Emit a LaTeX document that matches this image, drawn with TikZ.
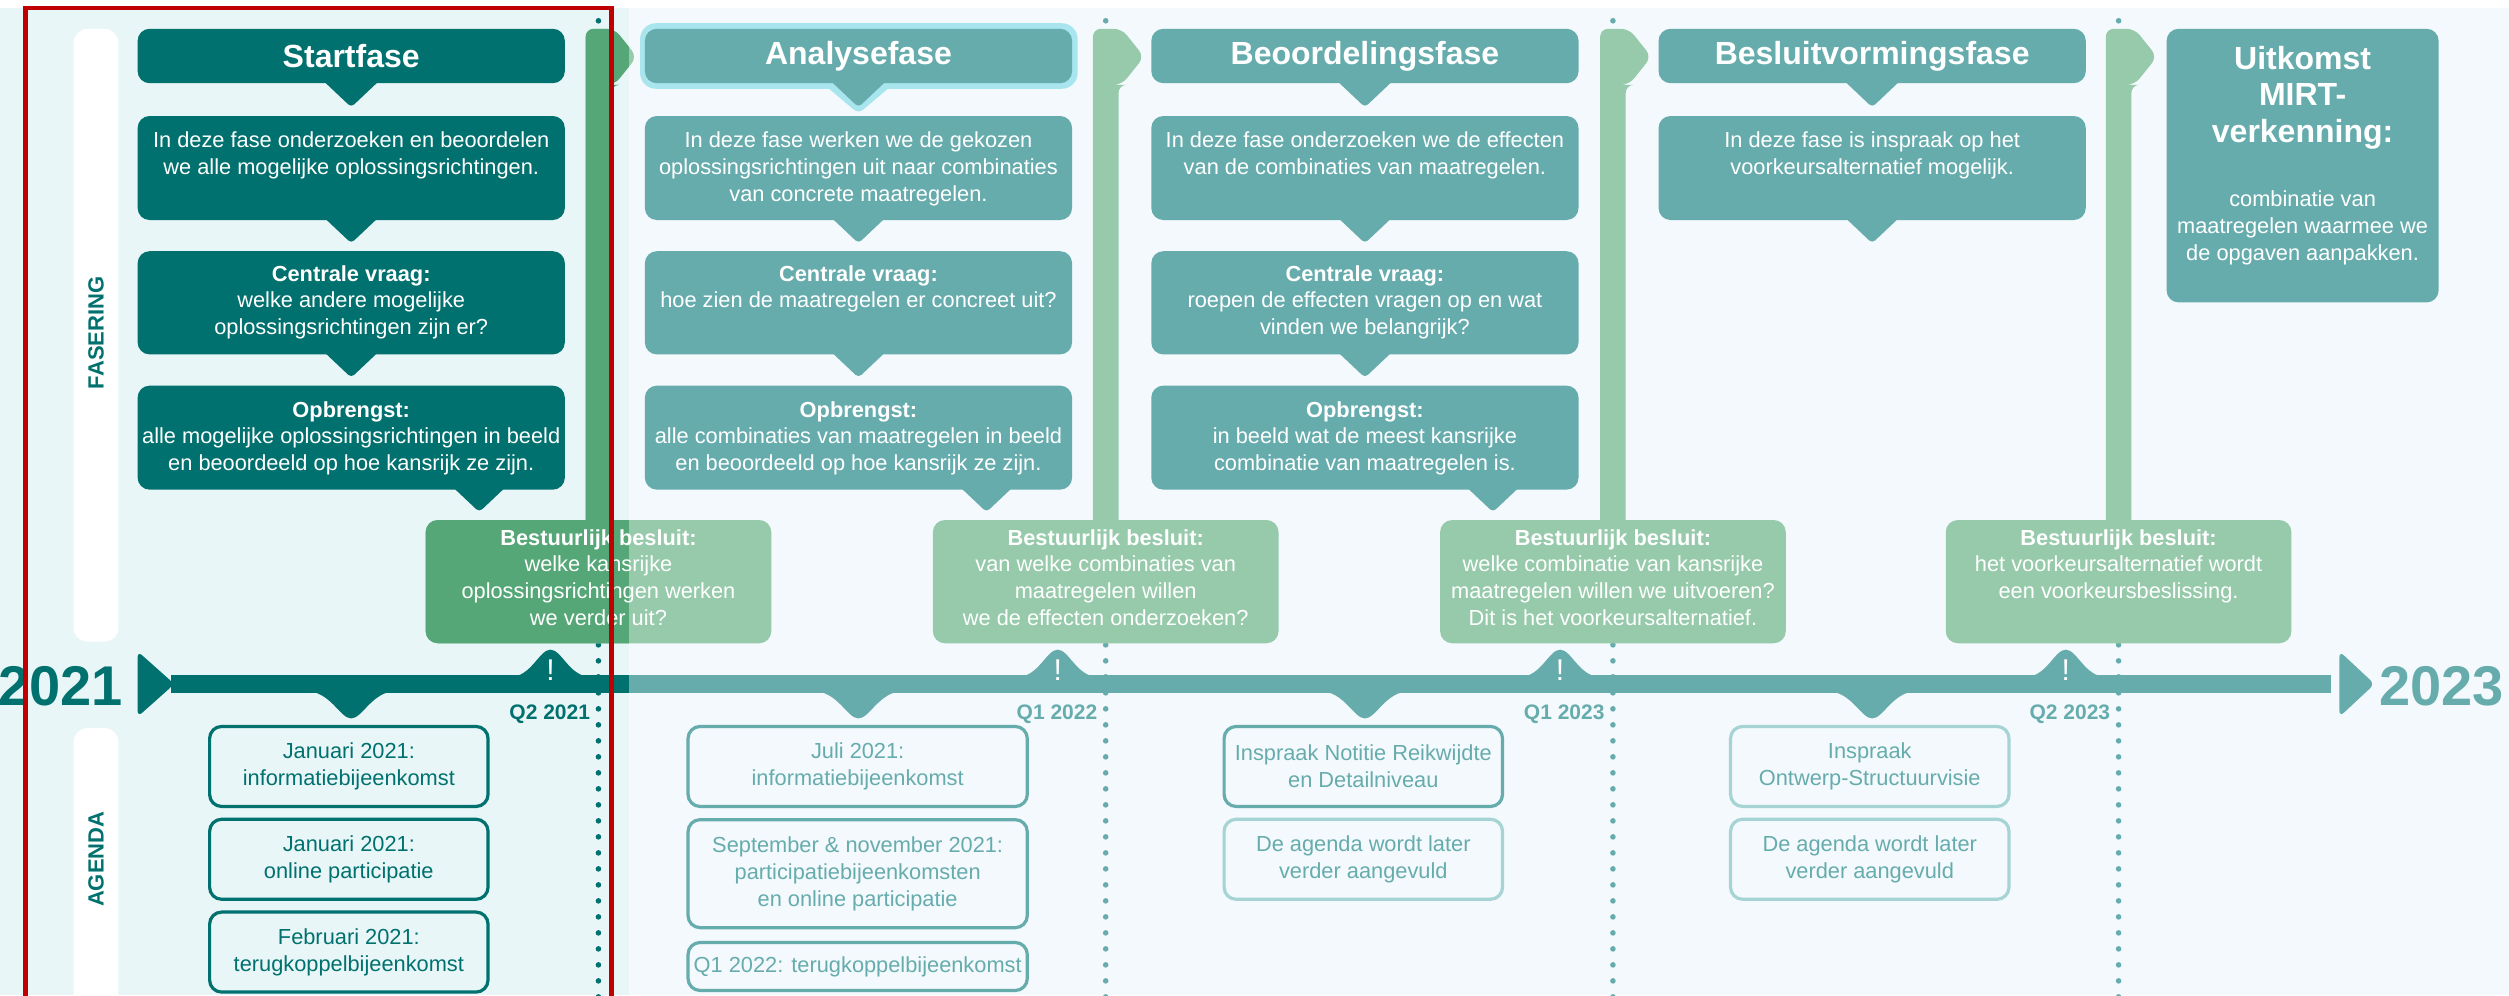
\documentclass[tikz,border=0pt]{standalone}
\usepackage{fontspec}
\setmainfont{Liberation Sans}
\usepackage{xcolor}
\usepackage{tikz}

\definecolor{darkteal}{HTML}{00716E}
\definecolor{midteal}{HTML}{67ACAD}
\definecolor{lightteal}{HTML}{A6D3D3}
\definecolor{lightgreen}{HTML}{96CAAB}
\definecolor{darkgreen}{HTML}{55A777}
\definecolor{panel}{HTML}{F3F9FC}
\definecolor{tint}{HTML}{E9F6F8}
\definecolor{glow}{HTML}{A8E5EE}
\definecolor{markred}{HTML}{C00000}

\tikzset{
  phasetext/.style={font=\fontsize{10.9}{13.4}\selectfont, text=white, align=center, inner sep=0pt},
  phasetitle/.style={font=\fontsize{16}{18.4}\selectfont\bfseries, text=white, align=center, inner sep=0pt},
  agendabox/.style={draw, line width=1.6pt, rounded corners=6pt, align=center, inner sep=0pt,
    font=\fontsize{10.9}{13.4}\selectfont},
  quarter/.style={font=\fontsize{10.5}{12}\selectfont\bfseries, inner sep=0pt, anchor=east},
  qline/.style={line width=2.8pt, line cap=round, dash pattern=on 0pt off 8pt},
  sidelabel/.style={rotate=90, font=\fontsize{11}{12}\selectfont\bfseries, text=darkteal, inner sep=0pt}
}

\begin{document}
\begin{tikzpicture}[x=0.8pt,y=-0.8pt]
\useasboundingbox (0,0) rectangle (1568,622);
\clip (0,0) rectangle (1568,622);

% achtergrond
\fill[white] (0,0) rectangle (1568,622);
\fill[panel] (0,5) rectangle (1568,622);
\fill[tint] (0,5) rectangle (393,622);
\fill[white, rounded corners=7pt] (46,18) rectangle (74,401);
\fill[white, rounded corners=7pt] (46,455) rectangle (74,650);
\node[sidelabel] (fasering) at (60,208) {FASERING};
\node[sidelabel] (agenda) at (60,537) {AGENDA};

% stippellijnen
\draw[qline, darkteal] (374,13) -- (374,630);
\foreach \dx in {691,1008,1324}
  \draw[qline, midteal] (\dx,13) -- (\dx,630);

% groene balken en besluiten
\foreach \dx in {374,691,1008,1324}{
  \fill[lightgreen, rounded corners=4pt] ({\dx-8},330) -- ({\dx-8},18) -- ({\dx+10},18) -- ({\dx+24},35.5) -- ({\dx+10},53) -- ({\dx+8},53) -- ({\dx+8},330) -- cycle;
  \fill[lightgreen, rounded corners=6pt] ({\dx-108},325) rectangle ({\dx+108},402);
}
\begin{scope}
\clip (0,0) rectangle (393,622);
\fill[darkgreen, rounded corners=4pt] (366,330) -- (366,18) -- (384,18) -- (398,35.5) -- (384,53) -- (382,53) -- (382,330) -- cycle;
\fill[darkgreen, rounded corners=6pt] (266,325) rectangle (482,402);
\end{scope}
\node[phasetext, anchor=north] (d1) at (374,330.5) {\textbf{Bestuurlijk besluit:}\\welke kansrijke\\oplossingsrichtingen werken\\we verder uit?};
\node[phasetext, anchor=north] (d2) at (691,330.5) {\textbf{Bestuurlijk besluit:}\\van welke combinaties van\\maatregelen willen\\we de effecten onderzoeken?};
\node[phasetext, anchor=north] (d3) at (1008,330.5) {\textbf{Bestuurlijk besluit:}\\welke combinatie van kansrijke\\maatregelen willen we uitvoeren?\\Dit is het voorkeursalternatief.};
\node[phasetext, anchor=north] (d4) at (1324,330.5) {\textbf{Bestuurlijk besluit:}\\het voorkeursalternatief wordt\\een voorkeursbeslissing.};

% fasen
\fill[glow, rounded corners=8pt] (400,14.5) rectangle (673.5,55.5);
\fill[glow, rounded corners=3pt] (514,52) -- (559,52) -- (536.5,71) -- cycle;
\foreach \cx/\fc in {219.5/darkteal,536.5/midteal,853/midteal,1170/midteal}{
  \fill[\fc, rounded corners=6pt] ({\cx-133.5},18) rectangle ({\cx+133.5},52);
  \fill[\fc, rounded corners=2pt] ({\cx-18},50) -- ({\cx+18},50) -- (\cx,67) -- cycle;
  \fill[\fc, rounded corners=6pt] ({\cx-133.5},72.5) rectangle ({\cx+133.5},137.5);
  \fill[\fc, rounded corners=2pt] ({\cx-18},135) -- ({\cx+18},135) -- (\cx,152) -- cycle;
}
\foreach \cx/\fc in {219.5/darkteal,536.5/midteal,853/midteal}{
  \fill[\fc, rounded corners=6pt] ({\cx-133.5},157) rectangle ({\cx+133.5},221.5);
  \fill[\fc, rounded corners=2pt] ({\cx-18},219) -- ({\cx+18},219) -- (\cx,236) -- cycle;
  \fill[\fc, rounded corners=6pt] ({\cx-133.5},241) rectangle ({\cx+133.5},306);
  \fill[\fc, rounded corners=2pt] ({\cx+62},303) -- ({\cx+98},303) -- ({\cx+80},320) -- cycle;
}
\node[phasetitle] (t1) at (219.5,35) {Startfase};
\node[phasetitle] (t2) at (536.5,35) {Analysefase};
\node[phasetitle] (t3) at (853,35) {Beoordelingsfase};
\node[phasetitle] (t4) at (1170,35) {Besluitvormingsfase};

\node[phasetext, anchor=north] (s1) at (219.5,82) {In deze fase onderzoeken en beoordelen\\we alle mogelijke oplossingsrichtingen.};
\node[phasetext, anchor=north] (s2) at (219.5,165.5) {\textbf{Centrale vraag:}\\welke andere mogelijke\\oplossingsrichtingen zijn er?};
\node[phasetext, anchor=north] (s3) at (219.5,250.5) {\textbf{Opbrengst:}\\alle mogelijke oplossingsrichtingen in beeld\\en beoordeeld op hoe kansrijk ze zijn.};

\node[phasetext, anchor=north] (a1) at (536.5,82) {In deze fase werken we de gekozen\\oplossingsrichtingen uit naar combinaties\\van concrete maatregelen.};
\node[phasetext, anchor=north] (a2) at (536.5,165.5) {\textbf{Centrale vraag:}\\hoe zien de maatregelen er concreet uit?};
\node[phasetext, anchor=north] (a3) at (536.5,250.5) {\textbf{Opbrengst:}\\alle combinaties van maatregelen in beeld\\en beoordeeld op hoe kansrijk ze zijn.};

\node[phasetext, anchor=north] (b1) at (853,82) {In deze fase onderzoeken we de effecten\\van de combinaties van maatregelen.};
\node[phasetext, anchor=north] (b2) at (853,165.5) {\textbf{Centrale vraag:}\\roepen de effecten vragen op en wat\\vinden we belangrijk?};
\node[phasetext, anchor=north] (b3) at (853,250.5) {\textbf{Opbrengst:}\\in beeld wat de meest kansrijke\\combinatie van maatregelen is.};

\node[phasetext, anchor=north] (c1) at (1170,82) {In deze fase is inspraak op het\\voorkeursalternatief mogelijk.};

% uitkomst
\fill[midteal, rounded corners=6pt] (1354,18) rectangle (1524,189);
\node[phasetitle, anchor=north] (u0) at (1439,28.5) {Uitkomst\\MIRT-\\verkenning:};
\node[phasetext, anchor=north] (u1) at (1439,119) {combinatie van\\maatregelen waarmee we\\de opgaven aanpakken.};

% tijdlijn
\coordinate (tstart) at (107,427.5);
\coordinate (tnow) at (393,427.5);
\coordinate (tend) at (1457,427.5);
\draw[darkteal, line width=8.8pt] (tstart) -- (tnow);
\draw[midteal, line width=8.8pt] (tnow) -- (tend);
\fill[darkteal, rounded corners=3pt] (86,407) -- (109,427.5) -- (86,448) -- cycle;
\fill[midteal, rounded corners=3pt] (1462,407) -- (1484,427.5) -- (1462,448) -- cycle;
\node[font=\fontsize{28}{28}\selectfont\bfseries, text=darkteal, inner sep=0pt] (y1) at (38,429) {2021};
\node[font=\fontsize{28}{28}\selectfont\bfseries, text=midteal, inner sep=0pt] (y2) at (1526,429) {2023};

% markeringen op de tijdlijn
\foreach \bx/\fc in {219.5/darkteal,536.5/midteal,853/midteal,1170/midteal}
  \fill[\fc] ({\bx-28},432) .. controls ({\bx-13},432) and ({\bx-7},449) .. (\bx,449) .. controls ({\bx+7},449) and ({\bx+13},432) .. ({\bx+28},432) -- cycle;
\foreach \bx/\fc in {344/darkteal,661/midteal,975/midteal,1291/midteal}{
  \fill[\fc] ({\bx-25},423) .. controls ({\bx-12},423) and ({\bx-7},406) .. (\bx,406) .. controls ({\bx+7},406) and ({\bx+12},423) .. ({\bx+25},423) -- cycle;
  \node[font=\fontsize{15}{15}\selectfont, text=white, inner sep=0pt] at (\bx,419) {!};
}
\node[quarter, text=darkteal] (q1) at (369,446.5) {Q2 2021};
\node[quarter, text=midteal] (q2) at (686,446.5) {Q1 2022};
\node[quarter, text=midteal] (q3) at (1003,446.5) {Q1 2023};
\node[quarter, text=midteal] (q4) at (1319,446.5) {Q2 2023};

% agenda
\node[agendabox, draw=darkteal, text=darkteal, minimum width=139.2pt, minimum height=40pt] (ag1) at (218,479) {Januari 2021:\\informatiebijeenkomst};
\node[agendabox, draw=darkteal, text=darkteal, minimum width=139.2pt, minimum height=40pt] (ag2) at (218,537) {Januari 2021:\\online participatie};
\node[agendabox, draw=darkteal, text=darkteal, minimum width=139.2pt, minimum height=40pt] (ag3) at (218,595) {Februari 2021:\\terugkoppelbijeenkomst};

\node[agendabox, draw=midteal, text=midteal, minimum width=169.6pt, minimum height=40pt] (ag4) at (536,479) {Juli 2021:\\informatiebijeenkomst};
\node[agendabox, draw=midteal, text=midteal, minimum width=169.6pt, minimum height=54pt] (ag5) at (536,546) {September \& november 2021:\\participatiebijeenkomsten\\en online participatie};
\node[agendabox, draw=midteal, text=midteal, minimum width=169.6pt, minimum height=24pt] (ag6) at (536,604) {Q1 2022: terugkoppelbijeenkomst};

\node[agendabox, draw=midteal, text=midteal, minimum width=139.2pt, minimum height=40pt] (ag7) at (852,479) {Inspraak Notitie Reikwijdte\\en Detailniveau};
\node[agendabox, draw=lightteal, text=midteal, minimum width=139.2pt, minimum height=40pt] (ag8) at (852,537) {De agenda wordt later\\verder aangevuld};

\node[agendabox, draw=lightteal, text=midteal, minimum width=139.2pt, minimum height=40pt] (ag9) at (1168.5,479) {Inspraak\\Ontwerp-Structuurvisie};
\node[agendabox, draw=lightteal, text=midteal, minimum width=139.2pt, minimum height=40pt] (ag10) at (1168.5,537) {De agenda wordt later\\verder aangevuld};

% huidige fase
\draw[markred, line width=2.4pt] (16,5) rectangle (382,640);
\end{tikzpicture}
\end{document}
